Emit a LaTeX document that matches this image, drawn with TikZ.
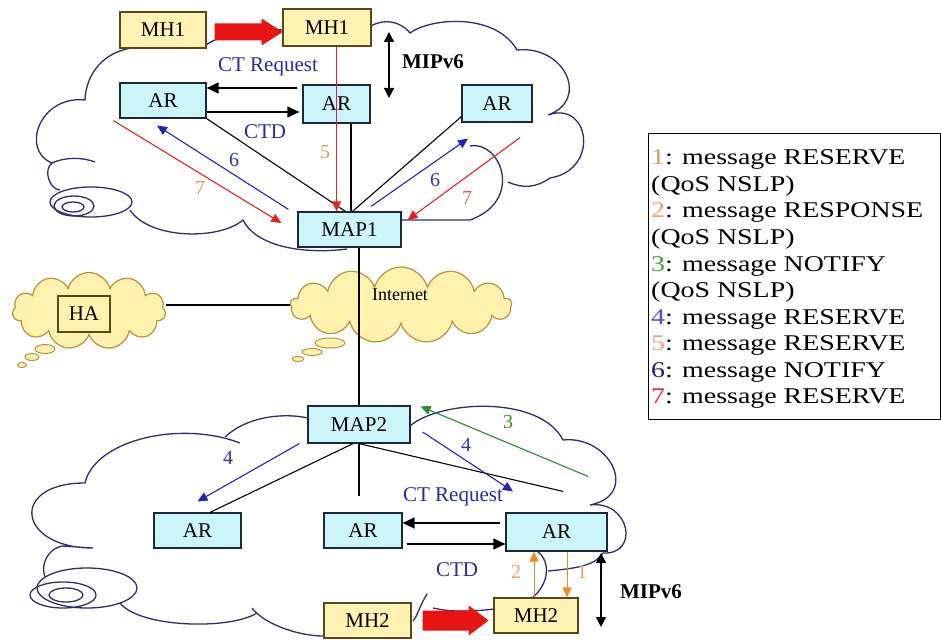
\documentclass[tikz,border=0pt]{standalone}
\usepackage{fontspec}
\setmainfont{Liberation Serif}
\newfontfamily\legendfont[FakeStretch=1.24]{Liberation Serif}
\usetikzlibrary{arrows.meta,calc,shapes.symbols}

\definecolor{cloudline}{HTML}{2E2E6E}
\definecolor{boxcyan}{HTML}{CCF5FA}
\definecolor{boxedge}{HTML}{1C2A38}
\definecolor{mhfill}{HTML}{FFF3B4}
\definecolor{mhedge}{HTML}{5A4818}
\definecolor{inetfill}{HTML}{FFF2AE}
\definecolor{inetedge}{HTML}{B8923C}
\definecolor{msgblue}{HTML}{2424B8}
\definecolor{msgred}{HTML}{E42222}
\definecolor{msgorange}{HTML}{F08A2A}
\definecolor{msggreen}{HTML}{2E8A2E}
\definecolor{lblsand}{HTML}{D49A62}
\definecolor{lblblue}{HTML}{3434A8}
\definecolor{lblred}{HTML}{E0604A}
\definecolor{lblgreen}{HTML}{3C8A2C}
\definecolor{lblorange}{HTML}{F0A060}
\definecolor{fatred}{HTML}{E81414}
\definecolor{ctblue}{HTML}{2B2B9B}
\definecolor{lg1}{HTML}{C8A070}
\definecolor{lg2}{HTML}{F0A070}
\definecolor{lg3}{HTML}{40A040}
\definecolor{lg4}{HTML}{5050C0}
\definecolor{lg5}{HTML}{F0A080}
\definecolor{lg6}{HTML}{202060}
\definecolor{lg7}{HTML}{E03030}

\tikzset{
  netbox/.style={draw=boxedge, fill=boxcyan, line width=1.2pt, inner sep=0pt,
    font=\fontsize{21}{25}\selectfont},
  hostbox/.style={draw=mhedge, fill=mhfill, line width=1.2pt, inner sep=0pt,
    font=\fontsize{21}{25}\selectfont},
  cloudedge/.style={draw=cloudline, line width=1.3pt},
  puffcloud/.style={cloud, draw=inetedge, fill=inetfill, line width=1.2pt, inner sep=0pt},
  puff/.style={draw=inetedge, fill=inetfill, line width=1pt},
  wire/.style={draw=black, line width=1.1pt},
  msg/.style={line width=1.1pt, -{Triangle[length=10pt,width=9pt]}},
  ctarrow/.style={line width=1.3pt, -{Triangle[length=12pt,width=11pt]}},
  mobility/.style={line width=1.3pt, {Triangle[length=10pt,width=10pt]}-{Triangle[length=10pt,width=10pt]}},
  fatarrow/.style={fill=fatred},
  numlabel/.style={font=\fontsize{20}{24}\selectfont, inner sep=0pt},
  ctlabel/.style={font=\fontsize{21}{25}\selectfont, inner sep=0pt, text=ctblue},
  miplabel/.style={font=\fontsize{21}{25}\selectfont\bfseries, inner sep=0pt},
  legline/.style={font=\legendfont\fontsize{22.5}{26}\selectfont, inner sep=0pt, anchor=base west},
}

\begin{document}
\begin{tikzpicture}[x=1pt,y=-1pt]
\useasboundingbox (0,0) rectangle (941,644);
\fill[white] (0,0) rectangle (941,644);

% ---------- upper access network cloud ----------
\draw[cloudedge]
  (60,190) to[bend left=70] (52,163)
  .. controls (20,150) and (40,95) .. (85,100)
  to[bend left=40] (132,48)
  -- (206,45)
  .. controls (220,35) and (250,28) .. (283,30)
  -- (371,26)
  to[bend left=40] (410,33)
  .. controls (430,18) and (495,12) .. (517,50)
  .. controls (565,45) and (590,100) .. (548,115)
  .. controls (590,100) and (600,170) .. (550,178)
  to[bend left=30] (508,182);
\draw[cloudedge] (470,146) .. controls (500,140) and (525,200) .. (470,220) -- (402,220);
\draw[cloudedge] (347,249) .. controls (300,255) and (255,245) .. (243,220)
  .. controls (220,240) and (150,240) .. (130,210);
\draw[cloudedge] (52,163) .. controls (65,157) and (82,157) .. (95,162);
\draw[cloudedge] (91,202) ellipse [x radius=41pt, y radius=15pt];
\draw[cloudedge] (74,206) ellipse [x radius=20pt, y radius=10pt];
\draw[cloudedge] (73,207) ellipse [x radius=11pt, y radius=5pt];

% ---------- lower access network cloud ----------
\draw[cloudedge] (45,577) to[bend left=50] (62,546) -- (93,548)
  .. controls (17,548) and (9,483) .. (85,483)
  .. controls (95,440) and (180,420) .. (240,443);
\draw[cloudedge] (225,437) .. controls (245,418) and (280,412) .. (308,418);
\draw[cloudedge] (410,426) .. controls (440,400) and (540,395) .. (563,440)
  .. controls (610,435) and (640,495) .. (590,505)
  .. controls (630,500) and (640,555) .. (603,553)
  .. controls (595,565) and (580,568) .. (548,571);
\draw[cloudedge] (537,551) .. controls (552,562) and (548,585) .. (533,597);
\draw[cloudedge] (494,609) .. controls (470,612) and (450,612) .. (433,608);
\draw[cloudedge] (427,594) .. controls (420,605) and (418,615) .. (413,621);
\draw[cloudedge] (323,636) .. controls (300,636) and (265,625) .. (252,608);
\draw[cloudedge] (257,613) .. controls (230,630) and (140,628) .. (120,603);
\draw[cloudedge] (87,588) ellipse [x radius=50pt, y radius=20pt];
\draw[cloudedge] (63,595) ellipse [x radius=33pt, y radius=13pt];
\draw[cloudedge] (66,595) ellipse [x radius=17pt, y radius=7pt];

% ---------- home network and Internet ----------
\node[puffcloud, cloud puffs=11, aspect=2, minimum width=153pt, minimum height=77pt] (hacloud) at (89,311) {};
\draw[puff] (45,349) ellipse [x radius=10pt, y radius=4.5pt];
\draw[puff] (32,357) ellipse [x radius=7pt, y radius=3.5pt];
\draw[puff] (22,365) ellipse [x radius=4.5pt, y radius=2.5pt];
\node[puffcloud, cloud puffs=13, aspect=2.9, minimum width=221pt, minimum height=76pt] (inet) at (401,305) {};
\draw[puff] (330,343) ellipse [x radius=15pt, y radius=5pt];
\draw[puff] (312,352) ellipse [x radius=10pt, y radius=3.5pt];
\draw[puff] (298,359) ellipse [x radius=6pt, y radius=2.5pt];
\node[font=\fontsize{18}{22}\selectfont, inner sep=0pt] (inettext) at (400,295) {Internet};
\node[draw=mhedge, line width=1.1pt, minimum width=52pt, minimum height=36pt, inner sep=0pt,
  font=\fontsize{21}{25}\selectfont] (HA) at (84,314) {HA};

% ---------- nodes ----------
\node[hostbox, minimum width=86pt, minimum height=36pt] (MH1a) at (163,30) {MH1};
\node[hostbox, minimum width=88pt, minimum height=37pt] (MH1b) at (327,27.5) {MH1};
\node[netbox, minimum width=86pt, minimum height=35pt] (AR1) at (163,100.5) {AR};
\node[netbox, minimum width=67pt, minimum height=38pt] (AR2) at (336.5,104) {AR};
\node[netbox, minimum width=70pt, minimum height=37pt] (AR3) at (497,103.5) {AR};
\node[netbox, minimum width=103pt, minimum height=35pt] (MAP1) at (349.5,229.5) {MAP1};

\node[netbox, minimum width=102pt, minimum height=37pt] (MAP2) at (359,424.5) {MAP2};
\node[netbox, minimum width=87pt, minimum height=35pt] (ARb1) at (197.5,530.5) {AR};
\node[netbox, minimum width=78pt, minimum height=35pt] (ARb2) at (363,530.5) {AR};
\node[netbox, minimum width=101pt, minimum height=38pt] (ARb3) at (556.5,532) {AR};
\node[hostbox, minimum width=87pt, minimum height=35pt] (MH2a) at (367.5,620.5) {MH2};
\node[hostbox, minimum width=84pt, minimum height=35pt] (MH2b) at (536,615.5) {MH2};

% ---------- wires ----------
\draw[wire] (inet.west -| hacloud.east) -- (inet.west);
\draw[wire] (MAP1.south -| MAP2.north) -- (MAP2.north);

\coordinate (k3) at ($(AR2.south)+(14.5,0)$);
\draw[wire] (k3) -- (k3 |- MAP1.north);
\draw[wire] (AR1.south east) -- ($(MAP1.north)+(-4,0)$);
\draw[wire] ($(AR3.south west)+(0,-6)$) -- ($(MAP1.north)+(3,0)$);

\draw[wire] ($(MAP2.south)+(-6,0)$) -- ($(ARb1.north)+(12.5,0)$);
\coordinate (stub) at ($(ARb2.north)+(-4,-16)$);
\draw[wire] (MAP2.south -| stub) -- (stub);
\coordinate (rend) at ($(ARb3.north)+(6.5,-21)$);
\draw[wire] (MAP2.south) -- (rend);

% ---------- context transfer ----------
\coordinate (k1) at ($(AR2.west)+(-5,-16)$);
\draw[ctarrow] (k1) -- (k1 -| AR1.east);
\coordinate (k2) at ($(AR1.east)+(0,11.5)$);
\draw[ctarrow] (k2) -- ($(k2 -| AR2.west)+(-3,0)$);
\coordinate (d1) at ($(ARb3.west)+(-5,-9)$);
\draw[ctarrow] (d1) -- (d1 -| ARb2.east);
\coordinate (d2) at ($(ARb2.east)+(4,13.5)$);
\draw[ctarrow] (d2) -- (d2 -| ARb3.west);

% ---------- signalling messages ----------
\coordinate (r5) at ($(MH1b.south)+(9.5,0)$);
\draw[msg, msgred] (r5) -- (r5 |- MAP1.north);
\draw[msg, msgblue] ($(MAP1.north west)+(-9,-2)$) -- ($(AR1.south)+(-6,7)$);
\draw[msg, msgred] ($(AR1.south west)+(-6,2)$) -- ($(MAP1.west)+(-16,-6.5)$);
\draw[msg, msgblue] ($(MAP1.north)+(21.5,-5)$) -- ($(AR3.south)+(-29,16)$);
\draw[msg, msgred] ($(AR3.south)+(23,15)$) -- ($(MAP1.east)+(6,-9.5)$);

\draw[msg, msgblue] ($(MAP2.south west)+(-8,0)$) -- ($(ARb1.north)+(0,-11)$);
\draw[msg, msgblue] ($(MAP2.east)+(12,7.5)$) -- ($(ARb3.north)+(-43.5,-21)$);
\draw[msg, msggreen] ($(ARb3.north)+(31.5,-36)$) -- ($(MAP2.north east)+(10,1)$);
\coordinate (o2) at ($(MH2b.north)+(-2,0)$);
\draw[msg, msgorange, line width=1pt] (o2) -- (o2 |- ARb3.south);
\coordinate (o1) at ($(ARb3.south)+(10.5,0)$);
\draw[msg, msgorange, line width=1pt] (o1) -- (o1 |- MH2b.north);

% ---------- movement (block arrows) and MIPv6 ----------
\coordinate (move1) at ($(MH1a.east)+(8,2)$);
\fill[fatarrow] (move1) ++(0,-8.5) -- ++(47,0) -- ++(0,-5) -- ++(21,13.5)
  -- ++(-21,13.5) -- ++(0,-5) -- ++(-47,0) -- cycle;
\coordinate (move2) at ($(MH2a.east)+(11,0)$);
\fill[fatarrow] (move2) ++(0,-10) -- ++(46,0) -- ++(0,-5) -- ++(20,15)
  -- ++(-20,15) -- ++(0,-5) -- ++(-46,0) -- cycle;
\coordinate (mt1) at (389,32);
\coordinate (mt2) at (389,98);
\draw[mobility] (mt1) -- (mt2);
\coordinate (mb1) at (601,553);
\coordinate (mb2) at (601,627);
\draw[mobility] (mb1) -- (mb2);
\node[miplabel] (mip1) at (433,62) {MIPv6};
\node[miplabel] (mip2) at (651,592) {MIPv6};

% ---------- labels ----------
\node[ctlabel] (ctr1) at (268,67) {CT Request};
\node[ctlabel] (ctd1) at (265,132) {CTD};
\node[ctlabel] (ctr2) at (453,497) {CT Request};
\node[ctlabel] (ctd2) at (457,570) {CTD};

\node[numlabel, text=lblsand] (n5) at (325,152) {5};
\node[numlabel, text=lblblue] (n6a) at (234,160) {6};
\node[numlabel, text=lblsand] (n7a) at (200,188) {7};
\node[numlabel, text=lblblue] (n6b) at (435,180) {6};
\node[numlabel, text=lblred] (n7b) at (467,198) {7};
\node[numlabel, text=lblblue] (n4a) at (228,458) {4};
\node[numlabel, text=lblblue] (n4b) at (466,445) {4};
\node[numlabel, text=lblgreen] (n3) at (508,422) {3};
\node[numlabel, text=lblorange] (n2) at (516,572) {2};
\node[numlabel, text=lblorange] (n1) at (582,572) {1};

% ---------- legend ----------
\node[draw=black, line width=1.1pt, minimum width=292pt, minimum height=286pt, inner sep=0pt,
  anchor=north west] (legend) at (648,133) {};
\node[legline] (leg1) at (651,165) {\textcolor{lg1}{1}: message RESERVE};
\node[legline] (leg2) at (651,191.5) {(QoS NSLP)};
\node[legline] (leg3) at (651,218) {\textcolor{lg2}{2}: message RESPONSE};
\node[legline] (leg4) at (651,244.5) {(QoS NSLP)};
\node[legline] (leg5) at (651,271) {\textcolor{lg3}{3}: message NOTIFY};
\node[legline] (leg6) at (651,297.5) {(QoS NSLP)};
\node[legline] (leg7) at (651,324) {\textcolor{lg4}{4}: message RESERVE};
\node[legline] (leg8) at (651,350.5) {\textcolor{lg5}{5}: message RESERVE};
\node[legline] (leg9) at (651,377) {\textcolor{lg6}{6}: message NOTIFY};
\node[legline] (leg10) at (651,403.5) {\textcolor{lg7}{7}: message RESERVE};
\end{tikzpicture}
\end{document}
